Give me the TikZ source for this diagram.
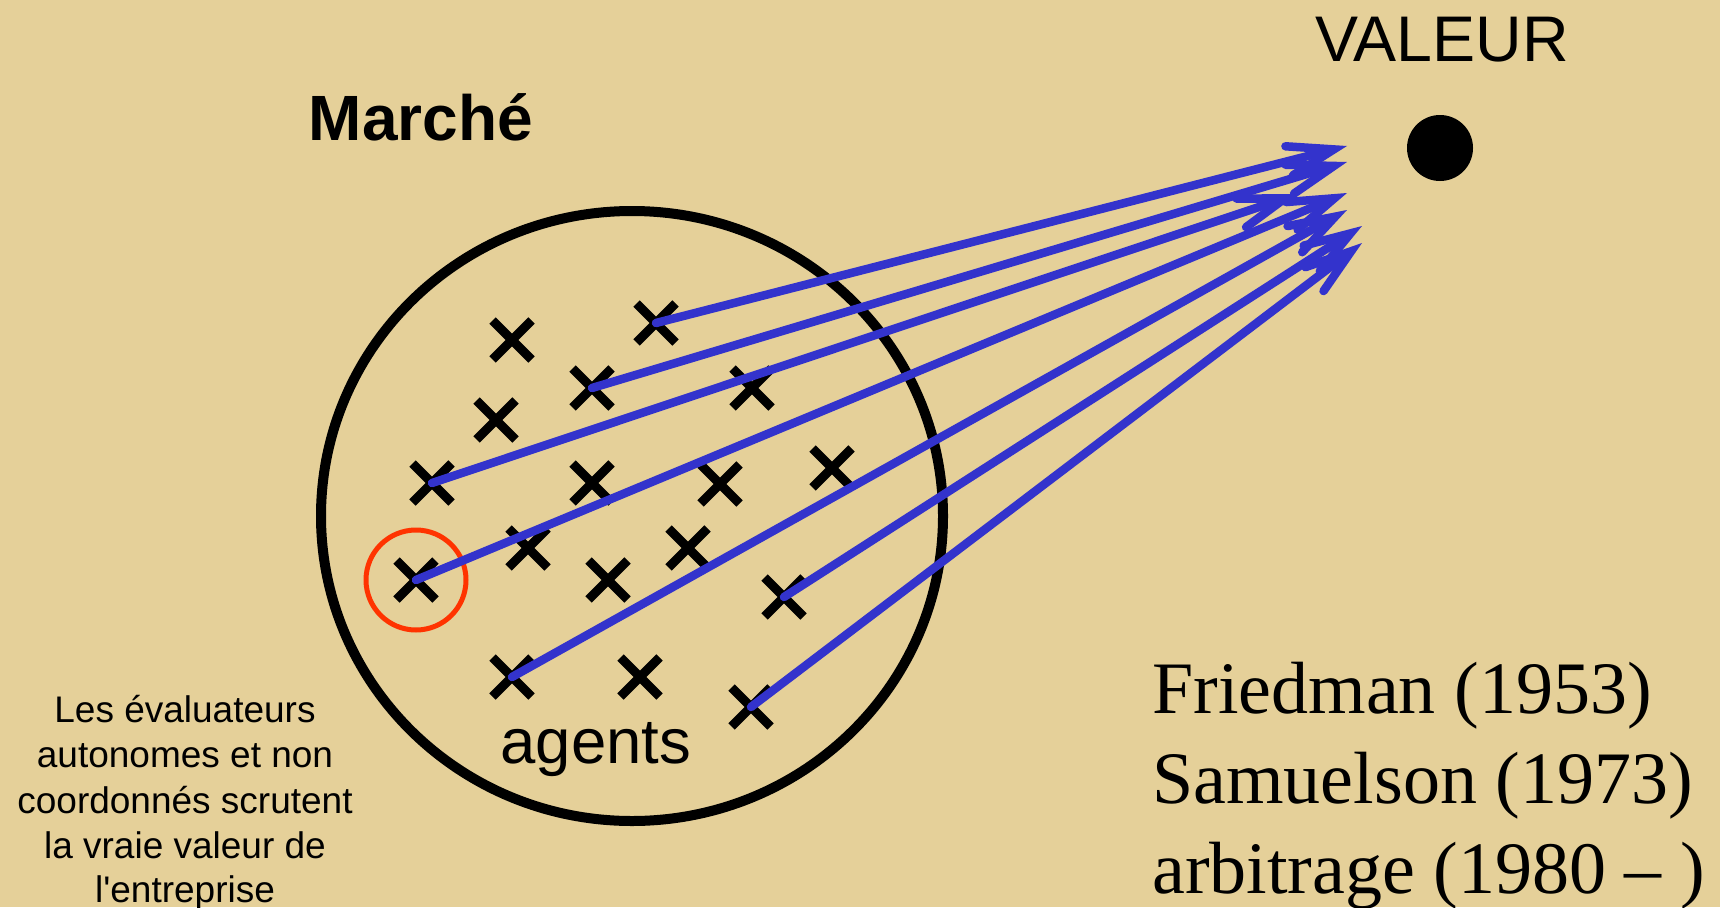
\documentclass[tikz,border=0pt]{standalone}
\usepackage{fontspec}
\setmainfont{Liberation Serif}
\newfontfamily\arialf{Liberation Sans}
\usetikzlibrary{arrows.meta,shapes.misc,shapes.geometric}
\definecolor{bgtan}{RGB}{229,208,153}
\definecolor{rayblue}{RGB}{51,51,204}
\definecolor{focusred}{RGB}{255,51,0}
\begin{document}
\begin{tikzpicture}[x=1pt,y=-1pt,
  agent/.style={cross out, draw=black, line width=9pt, minimum size=30pt, inner sep=0pt},
  ray/.style={draw=rayblue, line width=8.5pt, line cap=round,
    -{Straight Barb[length=46pt,width=30pt,line cap=round,line join=miter]}},
  sanslbl/.style={inner sep=0pt, anchor=base, font=\arialf\fontsize{64}{76}\selectfont},
  notelbl/.style={inner sep=0pt, anchor=base, font=\arialf\fontsize{37}{45}\selectfont},
  reflbl/.style={inner sep=0pt, anchor=base west, font=\fontsize{74}{90}\selectfont}]
\path[use as bounding box, fill=bgtan] (0,0) rectangle (1720,907);

% agents
\node[agent] (a1)  at (656,323) {};
\node[agent] (a2)  at (512,340) {};
\node[agent] (a3)  at (592,388) {};
\node[agent] (a4)  at (752,388) {};
\node[agent] (a5)  at (496,420) {};
\node[agent] (a6)  at (432,483) {};
\node[agent] (a7)  at (592,483) {};
\node[agent] (a8)  at (720,484) {};
\node[agent] (a9)  at (832,468) {};
\node[agent] (a10) at (528,548) {};
\node[agent] (a11) at (688,548) {};
\node[agent] (a12) at (416,580) {};
\node[agent] (a13) at (608,580) {};
\node[agent] (a14) at (784,597) {};
\node[agent] (a15) at (512,677) {};
\node[agent] (a16) at (640,677) {};
\node[agent] (a17) at (751,707) {};

% market
\node[ellipse, draw=black, line width=10pt, minimum width=622pt, minimum height=610pt, inner sep=0pt] (market) at (632,516) {};
\node[circle, draw=focusred, line width=5pt, minimum size=100pt, inner sep=0pt] (focus) at (416,580) {};

% value
\node[circle, fill=black, minimum size=66pt, inner sep=0pt] (val) at (1440,148) {};
\node[sanslbl, font=\arialf\fontsize{64.5}{76}\selectfont] (valeur) at (1442,61) {VALEUR};
\node[sanslbl, font=\arialf\bfseries\fontsize{64}{76}\selectfont] (marche) at (421,140) {Marché};
\node[sanslbl, font=\arialf\fontsize{63.5}{76}\selectfont] (agents) at (596,763) {agents};

% arrow tips
\coordinate (t1) at (1347,146);
\coordinate (t2) at (1347,162);
\coordinate (t3) at (1298,194);
\coordinate (t4) at (1347,193);
\coordinate (t5) at (1347,210);
\coordinate (t6) at (1362,226);
\coordinate (t7) at (1362,243);

\draw[ray] (a1.center) -- (t1);
\draw[ray] (a3.center) -- (t2);
\draw[ray] (a6.center) -- (t3);
\draw[ray] (a12.center) -- (t4);
\draw[ray] (a15.center) -- (t5);
\draw[ray] (a14.center) -- (t6);
\draw[ray] (a17.center) -- (t7);

% note
\node[notelbl] (n1) at (185,722) {Les évaluateurs};
\node[notelbl] (n2) at (185,767) {autonomes et non};
\node[notelbl] (n3) at (185,813) {coordonnés scrutent};
\node[notelbl] (n4) at (185,858) {la vraie valeur de};
\node[notelbl] (n5) at (185,902) {l'entreprise};

% references
\node[reflbl] (r1) at (1152,713) {Friedman (1953)};
\node[reflbl] (r2) at (1152,803) {Samuelson (1973)};
\node[reflbl] (r3) at (1152,893) {arbitrage (1980 -- )};
\end{tikzpicture}
\end{document}
